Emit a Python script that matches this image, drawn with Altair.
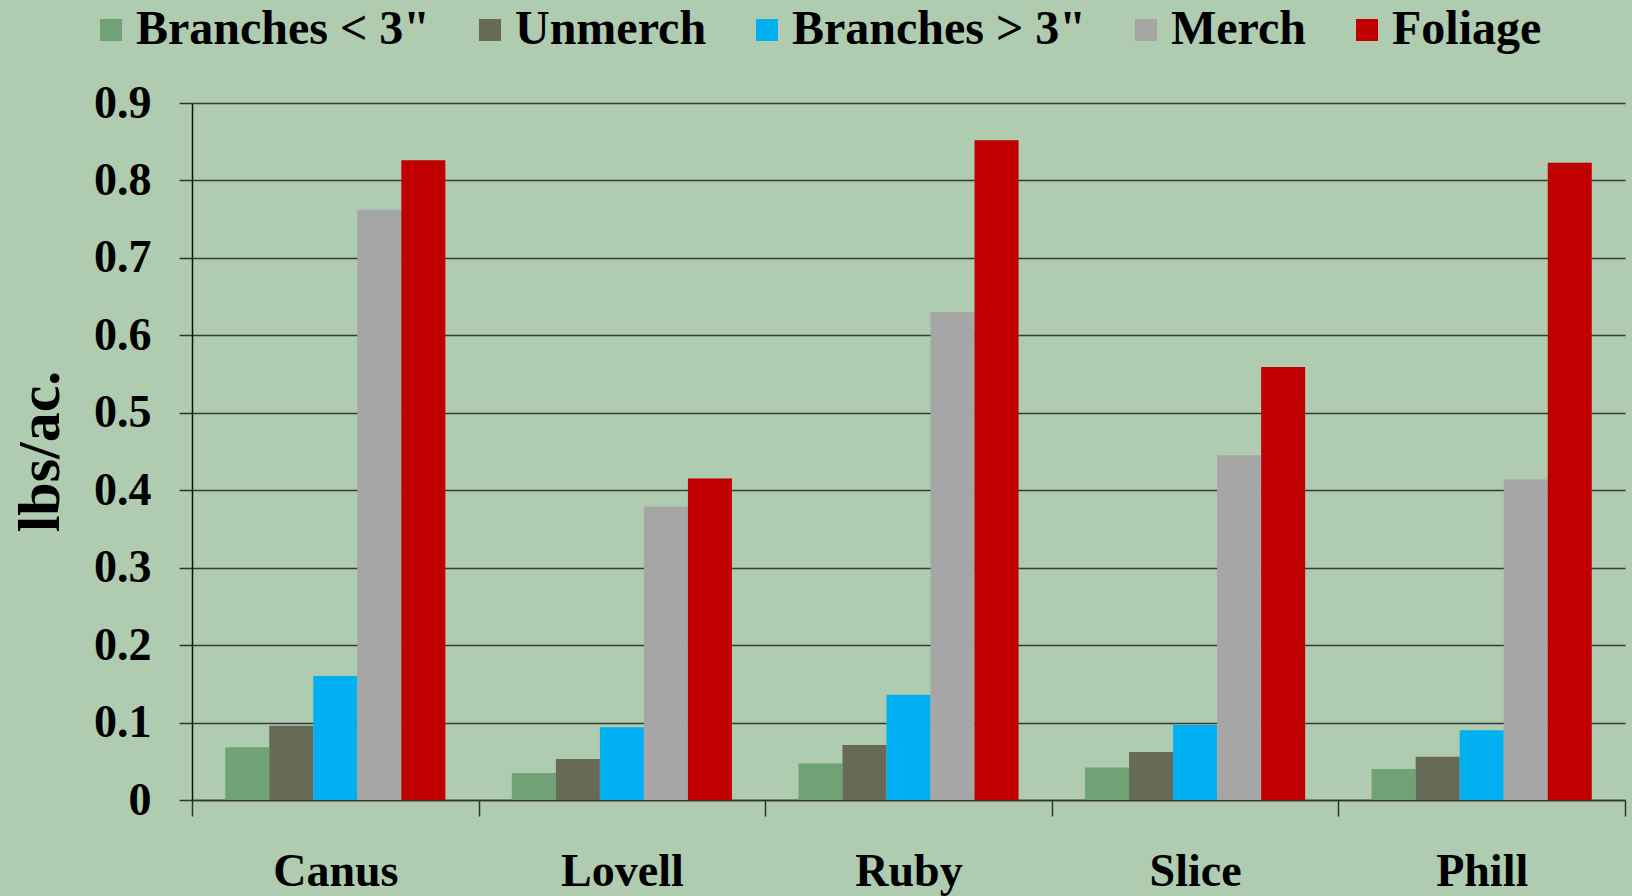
import altair as alt
import pandas as pd

# Biomass by component for each variety (lbs/ac.)
categories = ["Canus", "Lovell", "Ruby", "Slice", "Phill"]
parts = ["Branches < 3\"", "Unmerch", "Branches > 3\"", "Merch", "Foliage"]

branches_small = [0.068, 0.035, 0.047, 0.042, 0.040]
unmerch = [0.096, 0.053, 0.071, 0.062, 0.056]
branches_large = [0.160, 0.094, 0.136, 0.097, 0.090]
merch = [0.762, 0.379, 0.630, 0.445, 0.414]
foliage = [0.826, 0.415, 0.852, 0.559, 0.823]

part_colors = ["#70A275", "#676A55", "#00B0F0", "#A6A6A6", "#C00000"]
y_ticks = [0, 0.1, 0.2, 0.3, 0.4, 0.5, 0.6, 0.7, 0.8, 0.9]

series = [branches_small, unmerch, branches_large, merch, foliage]
rows = []
for part, values in zip(parts, series):
    for variety, v in zip(categories, values):
        rows.append({"variety": variety, "part": part, "value": v})
df = pd.DataFrame(rows)

FONT = "Liberation Serif"

chart = (
    alt.Chart(df)
    .mark_bar()
    .encode(
        x=alt.X(
            "variety:N",
            sort=categories,
            title=None,
            scale=alt.Scale(paddingInner=0, paddingOuter=0),
            axis=alt.Axis(
                tickBand="extent",
                labelAngle=0,
                labelFont=FONT,
                labelFontSize=46,
                labelFontWeight="bold",
                labelColor="#000000",
                labelPadding=33,
                tickSize=16,
                tickColor="#333333",
                tickWidth=1.5,
                domainColor="#333333",
                domainWidth=1.5,
                grid=False,
            ),
        ),
        xOffset=alt.XOffset(
            "part:N", sort=parts, scale=alt.Scale(paddingInner=0, paddingOuter=0.755)
        ),
        y=alt.Y(
            "value:Q",
            scale=alt.Scale(domain=[0, 0.9], nice=False),
            axis=alt.Axis(
                values=y_ticks,
                format="~g",
                title="lbs/ac.",
                titleFont=FONT,
                titleFontSize=60,
                titleFontWeight="bold",
                titleColor="#000000",
                titleAngle=270,
                titleAlign="center",
                titleBaseline="middle",
                titleX=-152,
                titleY=348,
                labelFont=FONT,
                labelFontSize=46,
                labelFontWeight="bold",
                labelColor="#000000",
                labelPadding=28,
                tickSize=13,
                tickColor="#333333",
                tickWidth=1.5,
                domainColor="#111111",
                domainWidth=1.5,
                grid=True,
                gridColor="#3A3A3A",
                gridWidth=1.5,
            ),
        ),
        color=alt.Color(
            "part:N",
            sort=parts,
            scale=alt.Scale(domain=parts, range=part_colors),
            legend=alt.Legend(
                title=None,
                orient="none",
                direction="horizontal",
                columns=5,
                legendX=-105,
                legendY=-97,
                symbolType="square",
                symbolSize=484,
                symbolStrokeWidth=0,
                labelFont=FONT,
                labelFontSize=48,
                labelFontWeight="bold",
                labelColor="#000000",
                labelLimit=0,
                labelOffset=1,
                columnPadding=36,
            ),
        ),
    )
    .properties(
        width=1433,
        height=697,
        autosize=alt.AutoSizeParams(type="none"),
        padding={"left": 192, "top": 103, "right": 7, "bottom": 96},
        background="#AFCBB0",
    )
    .configure_view(stroke=None)
)

chart.save("out.html", embed_options={"renderer": "svg", "actions": False})
